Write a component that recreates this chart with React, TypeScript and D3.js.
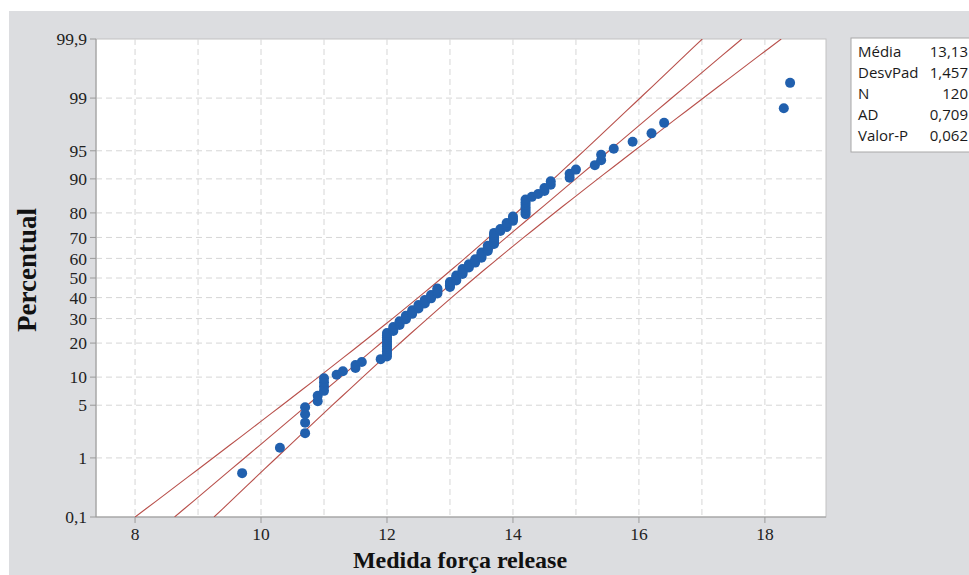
import * as d3 from "d3";

const forceValues = [
  9.7, 10.3, 10.7, 10.7, 10.7, 10.7, 10.9, 10.9, 11.0, 11.0,
  11.0, 11.0, 11.2, 11.3, 11.5, 11.5, 11.6, 11.9, 12.0, 12.0,
  12.0, 12.0, 12.0, 12.0, 12.0, 12.0, 12.0, 12.0, 12.0, 12.1,
  12.1, 12.1, 12.2, 12.2, 12.2, 12.3, 12.3, 12.3, 12.4, 12.4,
  12.4, 12.5, 12.5, 12.5, 12.6, 12.6, 12.6, 12.7, 12.7, 12.7,
  12.8, 12.8, 12.8, 12.8, 13.0, 13.0, 13.0, 13.0, 13.1, 13.1,
  13.1, 13.1, 13.2, 13.2, 13.2, 13.2, 13.3, 13.3, 13.3, 13.4,
  13.4, 13.4, 13.5, 13.5, 13.5, 13.5, 13.6, 13.6, 13.6, 13.6,
  13.7, 13.7, 13.7, 13.7, 13.7, 13.7, 13.7, 13.8, 13.8, 13.9,
  13.9, 13.9, 14.0, 14.0, 14.0, 14.2, 14.2, 14.2, 14.2, 14.2,
  14.2, 14.2, 14.3, 14.4, 14.5, 14.5, 14.6, 14.6, 14.9, 14.9,
  15.0, 15.3, 15.4, 15.4, 15.6, 15.9, 16.2, 16.4, 18.3, 18.4,
];

const probTicks = [0.1, 1, 5, 10, 20, 30, 40, 50, 60, 70, 80, 90, 95, 99, 99.9];
const xTicks = [8, 10, 12, 14, 16, 18];
const statLabels = ["Média", "DesvPad", "N", "AD", "Valor-P"];
const statValues = ["13,13", "1,457", "120", "0,709", "0,062"];

const fitMean = 13.13;
const fitSd = 1.457;
const fitN = 120;

// inverse normal cdf (Acklam)
function normInv(p: number) {
  const a = [-39.69683028665376, 220.9460984245205, -275.9285104469687, 138.357751867269, -30.66479806614716, 2.506628277459239];
  const b = [-54.47609879822406, 161.5858368580409, -155.6989798598866, 66.80131188771972, -13.28068155022803];
  const c = [-0.007784894002430293, -0.3223964580411365, -2.400758277161838, -2.549732539343734, 4.374664141464968, 2.938163982698783];
  const d = [0.007784695709041462, 0.3224671290700398, 2.445134137142996, 3.754408661907416];
  const plow = 0.02425;
  if (p < plow) {
    const q = Math.sqrt(-2 * Math.log(p));
    return (((((c[0] * q + c[1]) * q + c[2]) * q + c[3]) * q + c[4]) * q + c[5]) /
      ((((d[0] * q + d[1]) * q + d[2]) * q + d[3]) * q + 1);
  }
  if (p > 1 - plow) {
    const q = Math.sqrt(-2 * Math.log(1 - p));
    return -(((((c[0] * q + c[1]) * q + c[2]) * q + c[3]) * q + c[4]) * q + c[5]) /
      ((((d[0] * q + d[1]) * q + d[2]) * q + d[3]) * q + 1);
  }
  const q = p - 0.5;
  const r = q * q;
  return ((((((a[0] * r + a[1]) * r + a[2]) * r + a[3]) * r + a[4]) * r + a[5]) * q) /
    (((((b[0] * r + b[1]) * r + b[2]) * r + b[3]) * r + b[4]) * r + 1);
}

const fmt = (v: number) => String(v).replace(".", ",");

export default function App() {
  const width = 969;
  const height = 575;
  const plot = { left: 96, right: 826, top: 39, bottom: 517 };

  const x = d3.scaleLinear().domain([7.38, 18.97]).range([plot.left, plot.right]);
  const zMin = normInv(0.001);
  const zMax = normInv(0.999);
  const y = d3.scaleLinear().domain([zMin, zMax]).range([plot.bottom, plot.top]);
  const yP = (pct: number) => y(normInv(pct / 100));

  // plotting positions: Benard median ranks
  const n = forceValues.length;
  const points = forceValues.map((v, i) => ({
    x: v,
    z: normInv((i + 1 - 0.3) / (n + 0.4)),
  }));

  // fitted line and 95% bands from the fit stats
  const zs = d3.range(0, 61).map((k) => zMin + ((zMax - zMin) * k) / 60);
  const half = (z: number) => 1.96 * fitSd * Math.sqrt(1 / fitN + (z * z) / (2 * fitN));
  const line = d3
    .line<number>()
    .x((z) => x(fitMean + z * fitSd))
    .y((z) => y(z));
  const lower = d3
    .line<number>()
    .x((z) => x(fitMean + z * fitSd - half(z)))
    .y((z) => y(z));
  const upper = d3
    .line<number>()
    .x((z) => x(fitMean + z * fitSd + half(z)))
    .y((z) => y(z));

  const gridX = d3.range(8, 19);
  const serif = "'Liberation Serif', 'Times New Roman', serif";
  const sans = "'Open Sans', 'Noto Sans', sans-serif";

  return (
    <div style={{ position: "absolute", left: 0, top: 0 }}>
      <svg width={width} height={height} style={{ display: "block" }}>
        <rect x={0} y={0} width={width} height={height} fill="#ffffff" />
        <rect x={9} y={11} width={width - 9} height={height - 11} fill="#dcdde0" />

        <rect
          x={plot.left}
          y={plot.top}
          width={plot.right - plot.left}
          height={plot.bottom - plot.top}
          fill="#ffffff"
          stroke="#c2c2c2"
          strokeWidth={1}
        />

        <defs>
          <clipPath id="plotClip">
            <rect
              x={plot.left}
              y={plot.top}
              width={plot.right - plot.left}
              height={plot.bottom - plot.top}
            />
          </clipPath>
        </defs>

        {gridX.map((t) => (
          <line
            key={`gx-${t}`}
            x1={x(t)}
            x2={x(t)}
            y1={plot.top}
            y2={plot.bottom}
            stroke="#d6d6d6"
            strokeDasharray="6,4"
          />
        ))}
        {probTicks
          .filter((p) => p !== 0.1 && p !== 99.9)
          .map((p) => (
            <line
              key={`gy-${p}`}
              x1={plot.left}
              x2={plot.right}
              y1={yP(p)}
              y2={yP(p)}
              stroke="#d6d6d6"
              strokeDasharray="6,4"
            />
          ))}

        <line x1={plot.left} x2={plot.left} y1={plot.top} y2={plot.bottom} stroke="#9a9a9a" />
        <line x1={plot.left} x2={plot.right} y1={plot.bottom} y2={plot.bottom} stroke="#9a9a9a" />

        {probTicks.map((p) => (
          <g key={`ty-${p}`}>
            <line x1={plot.left - 6} x2={plot.left} y1={yP(p)} y2={yP(p)} stroke="#9a9a9a" />
            <text
              x={plot.left - 9}
              y={yP(p)}
              dy="0.35em"
              textAnchor="end"
              fontFamily={serif}
              fontSize={17.5}
              fill="#222"
            >
              {fmt(p)}
            </text>
          </g>
        ))}

        {xTicks.map((t) => (
          <g key={`tx-${t}`}>
            <line x1={x(t)} x2={x(t)} y1={plot.bottom} y2={plot.bottom + 6} stroke="#9a9a9a" />
            <text
              x={x(t)}
              y={plot.bottom + 23}
              textAnchor="middle"
              fontFamily={serif}
              fontSize={17.5}
              fill="#222"
            >
              {t}
            </text>
          </g>
        ))}

        <g clipPath="url(#plotClip)" fill="none" stroke="#b8504b" strokeWidth={1.1}>
          <path d={line(zs) ?? ""} />
          <path d={lower(zs) ?? ""} />
          <path d={upper(zs) ?? ""} />
        </g>

        <g fill="#2160ae">
          {points.map((d, i) => (
            <circle key={i} cx={x(d.x)} cy={y(d.z)} r={5} />
          ))}
        </g>

        <text
          x={460}
          y={568}
          textAnchor="middle"
          fontFamily={serif}
          fontWeight="bold"
          fontSize={24}
          fill="#111"
        >
          Medida força release
        </text>
        <text
          transform="translate(36, 270) rotate(-90)"
          textAnchor="middle"
          fontFamily={serif}
          fontWeight="bold"
          fontSize={27}
          fill="#111"
        >
          Percentual
        </text>

        <rect x={851} y={38} width={140} height={114} fill="#ffffff" stroke="#a8a8a8" />
        {statLabels.map((label, i) => (
          <g key={label}>
            <text
              x={858}
              y={52 + i * 21}
              dy="0.35em"
              fontFamily={sans}
              fontSize={15}
              fill="#1a1a1a"
            >
              {label}
            </text>
            <text
              x={968}
              y={52 + i * 21}
              dy="0.35em"
              textAnchor="end"
              fontFamily={sans}
              fontSize={15}
              fill="#1a1a1a"
            >
              {statValues[i]}
            </text>
          </g>
        ))}
      </svg>
    </div>
  );
}
